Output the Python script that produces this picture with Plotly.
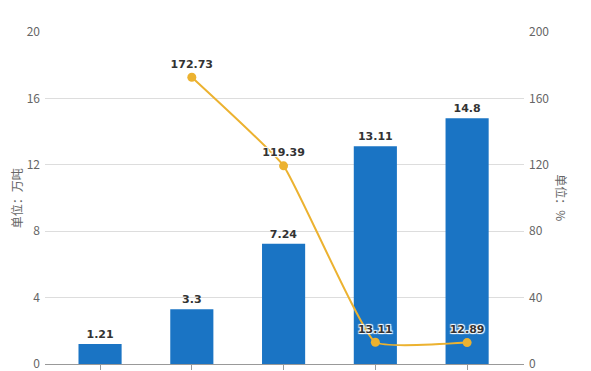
import plotly.graph_objects as go

categories = ["1", "2", "3", "4", "5"]
output_values = [1.21, 3.3, 7.24, 13.11, 14.8]
growth_values = [None, 172.73, 119.39, 13.11, 12.89]
left_ticks = [0, 4, 8, 12, 16, 20]
right_ticks = [0, 40, 80, 120, 160, 200]

xpos = list(range(len(categories)))

fig = go.Figure()
fig.add_trace(go.Bar(
    x=xpos, y=output_values, width=0.47,
    marker=dict(color="#1a74c4", line=dict(width=0)),
    text=[f"{v:g}" for v in output_values], textposition="outside",
    textfont=dict(family="DejaVu Sans", size=11, color="#333333", weight="bold"),
    cliponaxis=False, yaxis="y",
))
fig.add_trace(go.Scatter(
    x=xpos, y=growth_values, mode="lines+markers+text",
    line=dict(color="#ecb230", width=2, shape="spline", smoothing=0.35),
    marker=dict(color="#ecb230", size=9),
    text=[None if v is None else f"{v:g}" for v in growth_values],
    textposition="top center",
    textfont=dict(family="DejaVu Sans", size=11, color="#333333", weight="bold",
                  shadow="1px 1px 1px white, -1px -1px 1px white, 1px -1px 1px white, -1px 1px 1px white"),
    cliponaxis=False, yaxis="y2", connectgaps=False,
))

fig.update_layout(
    width=583, height=363,
    margin=dict(l=37, r=67, t=24, b=7, autoexpand=False),
    plot_bgcolor="white", paper_bgcolor="white",
    showlegend=False,
    font=dict(family="Noto Sans CJK SC, DejaVu Sans", color="#666666", size=12),
    xaxis=dict(range=[-0.6, 4.62], tickvals=xpos, showticklabels=False,
               ticks="outside", ticklen=5, tickcolor="#999999",
               showline=True, linecolor="#999999", showgrid=False, zeroline=False,
               automargin=False),
    yaxis=dict(range=[0, 20], tickvals=left_ticks, showgrid=True, gridcolor="#dddddd",
               zeroline=False, showline=False, ticks="", tickfont=dict(size=12, color="#666666"),
               ticklabelstandoff=4, automargin=False, ticklabeloverflow="allow"),
    yaxis2=dict(range=[0, 200], tickvals=right_ticks, overlaying="y", side="right",
                showgrid=False, zeroline=False, showline=False, tickfont=dict(size=12, color="#666666"),
                ticklabelstandoff=4, automargin=False, ticklabeloverflow="allow"),
)
fig.add_annotation(text="单位：万吨", xref="paper", yref="paper", x=-0.06, y=0.5,
                   xanchor="center", yanchor="middle", textangle=-90, showarrow=False,
                   font=dict(size=12, color="#666666"))
fig.add_annotation(text="单位：%", xref="paper", yref="paper", x=1.079, y=0.5,
                   xanchor="center", yanchor="middle", textangle=90, showarrow=False,
                   font=dict(size=12, color="#666666"))

fig.write_html("out.html")
